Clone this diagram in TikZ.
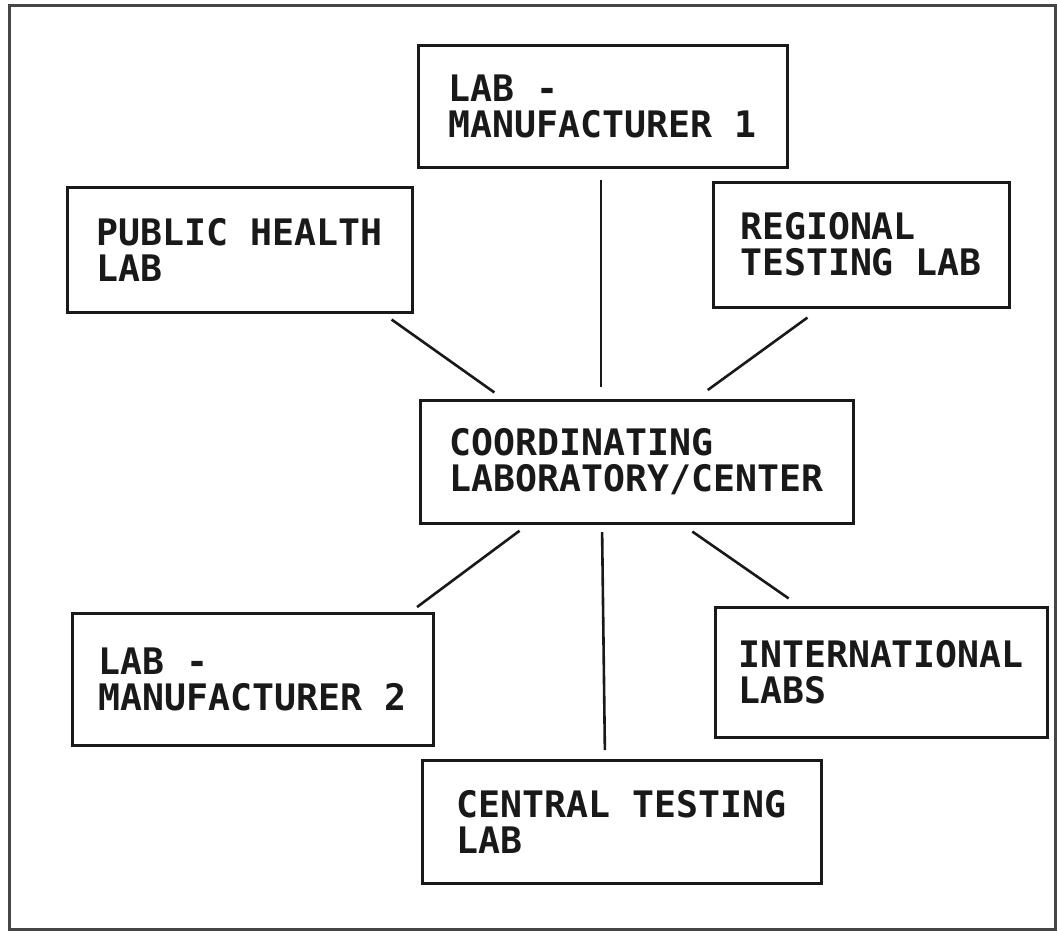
\documentclass[tikz,border=0pt]{standalone}
\usepackage{fontspec}
\usepackage{xcolor}
\usepackage{tikz}
\setmonofont{DejaVu Sans Mono}
\definecolor{inkgray}{RGB}{25, 25, 25}
\definecolor{framegray}{RGB}{70, 70, 70}
\usetikzlibrary{positioning, calc}

\begin{document}
\begin{tikzpicture}[
    x=1pt, y=-1pt,
    labbox/.style={rectangle, draw=inkgray, line width=3pt, outer sep=0pt, align=left,
        inner sep=0pt, font=\ttfamily\bfseries\fontsize{36.5}{36}\selectfont, text=inkgray},
    link/.style={draw=inkgray, line width=2.6pt, shorten <=13pt, shorten >=13pt}
]
    \useasboundingbox (0,0) rectangle (1057,932);
    \draw[framegray, line width=3pt] (9,5) rectangle (1055,929);

    \node[labbox, minimum width=369, minimum height=122] (mfr1) at (602.5, 106) {LAB -\\MANUFACTURER 1};
    \node[labbox, minimum width=345, minimum height=125] (public) at (239.5, 249.5) {PUBLIC HEALTH\\LAB};
    \node[labbox, minimum width=296, minimum height=125] (regional) at (861, 244.5) {REGIONAL\\TESTING LAB};
    \node[labbox, minimum width=433, minimum height=123] (coord) at (636.5, 461.5) {COORDINATING\\LABORATORY/CENTER};
    \node[labbox, minimum width=361, minimum height=132] (mfr2) at (252.5, 679) {LAB -\\MANUFACTURER 2};
    \node[labbox, minimum width=332, minimum height=130] (intl) at (881, 672) {INTERNATIONAL\\LABS};
    \node[labbox, minimum width=399, minimum height=123] (central) at (621.5, 821.5) {CENTRAL TESTING\\LAB};

    \draw[link] ([xshift=-1.5]mfr1.south) -- ([xshift=-35.5]coord.north);
    \draw[link] ([xshift=-31]public.south east) -- ([xshift=85]coord.north west);
    \draw[link, shorten <=18pt, shorten >=17pt] ([xshift=109]regional.south west) -- ([xshift=-159]coord.north east);
    \draw[link, shorten >=10pt] ([xshift=110]coord.south west) -- ([xshift=-24]mfr2.north east);
    \draw[link, shorten <=9pt, shorten >=10pt] ([xshift=-34.5]coord.south) -- ([xshift=-16.5]central.north);
    \draw[link, shorten <=15pt, shorten >=15pt] ([xshift=43.5]coord.south) -- ([xshift=86]intl.north west);
\end{tikzpicture}
\end{document}
